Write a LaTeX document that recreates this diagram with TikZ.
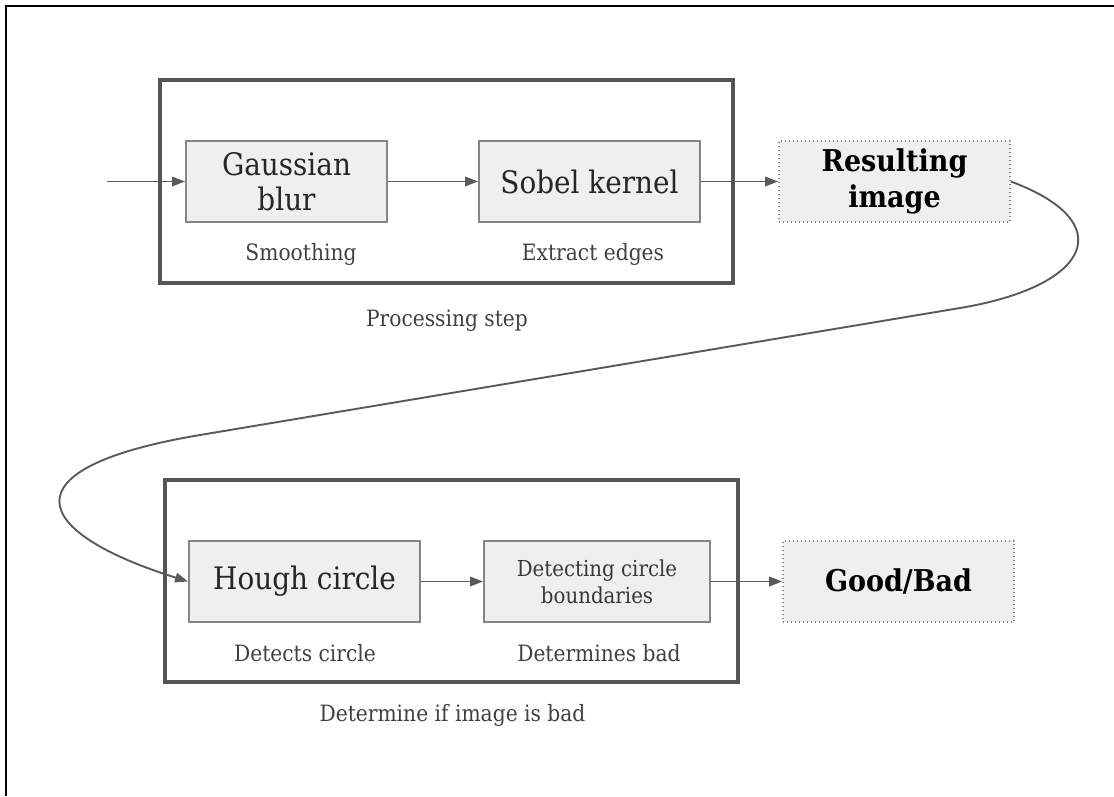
\documentclass[tikz,border=0pt]{standalone}
\usepackage{fontspec}
\setmainfont{DejaVu Serif Condensed}
\usetikzlibrary{arrows.meta}

\definecolor{boxfill}{HTML}{EFEFEF}
\definecolor{boxline}{HTML}{858585}
\definecolor{grpline}{HTML}{555555}
\definecolor{connline}{HTML}{5A5A5A}
\definecolor{captxt}{HTML}{404040}

\tikzset{
  stage/.style={draw=boxline, line width=1.9pt, fill=boxfill,
    minimum height=81pt, inner sep=0pt, align=center,
    font=\fontsize{31}{35}\selectfont, text=black!85},
  smallstage/.style={stage, font=\fontsize{22}{27}\selectfont, text=black!78},
  outcome/.style={draw=boxline, line width=1.7pt, fill=boxfill,
    dash pattern=on 1.4pt off 2.6pt, minimum height=81pt, inner sep=0pt,
    align=center, font=\fontsize{30}{36}\selectfont\bfseries, text=black},
  group/.style={draw=grpline, line width=3.3pt},
  caption/.style={font=\fontsize{22.5}{26}\selectfont, text=captxt, inner sep=0pt},
  conn/.style={draw=connline, line width=1.9pt,
    -{Triangle[length=13pt,width=9.5pt]}},
}

\begin{document}
\begin{tikzpicture}[x=1pt,y=-1pt]
\useasboundingbox (0,0) rectangle (1114,796);

% frame edges
\draw[black, line width=2.4pt] (6,796) -- (6,6) -- (1114,6);

% processing group
\draw[group] (160,80) rectangle (733,283);
\node[stage, minimum width=201pt] (gauss) at (286.5,181.5) {Gaussian\\blur};
\node[stage, minimum width=221pt] (sobel) at (589.5,181.5) {Sobel kernel};
\node[caption] (smooth) at (301,254) {Smoothing};
\node[caption] (edges) at (593,254) {Extract edges};
\node[caption] (proc) at (447,321) {Processing step};

\node[outcome, minimum width=231pt] (result) at (894.5,181.5) {Resulting\\image};

% detection group
\draw[group] (165,480) rectangle (738,682);
\node[stage, minimum width=231pt] (hough) at (304.5,581.5) {Hough circle};
\node[smallstage, minimum width=226pt] (detect) at (597,581.5) {Detecting circle\\boundaries};
\node[caption] (detcirc) at (305,653) {Detects circle};
\node[caption] (detbad) at (599,653) {Determines bad};
\node[caption] (decide) at (452.5,715) {Determine if image is bad};

\node[outcome, minimum width=231pt] (verdict) at (898.5,581.5) {Good/Bad};

% connectors
\coordinate (input) at (107,181.5);
\draw[conn] (input) -- (gauss.west);
\draw[conn] (gauss.east) -- (sobel.west);
\draw[conn] (sobel.east) -- (result.west);
\draw[conn] (result.east) .. controls (1120,222) and (1092,286) .. (960,308)
  -- (200,435) .. controls (3,468) and (30,532) .. (hough.west);
\draw[conn] (hough.east) -- (detect.west);
\draw[conn] (detect.east) -- (verdict.west);
\end{tikzpicture}
\end{document}
